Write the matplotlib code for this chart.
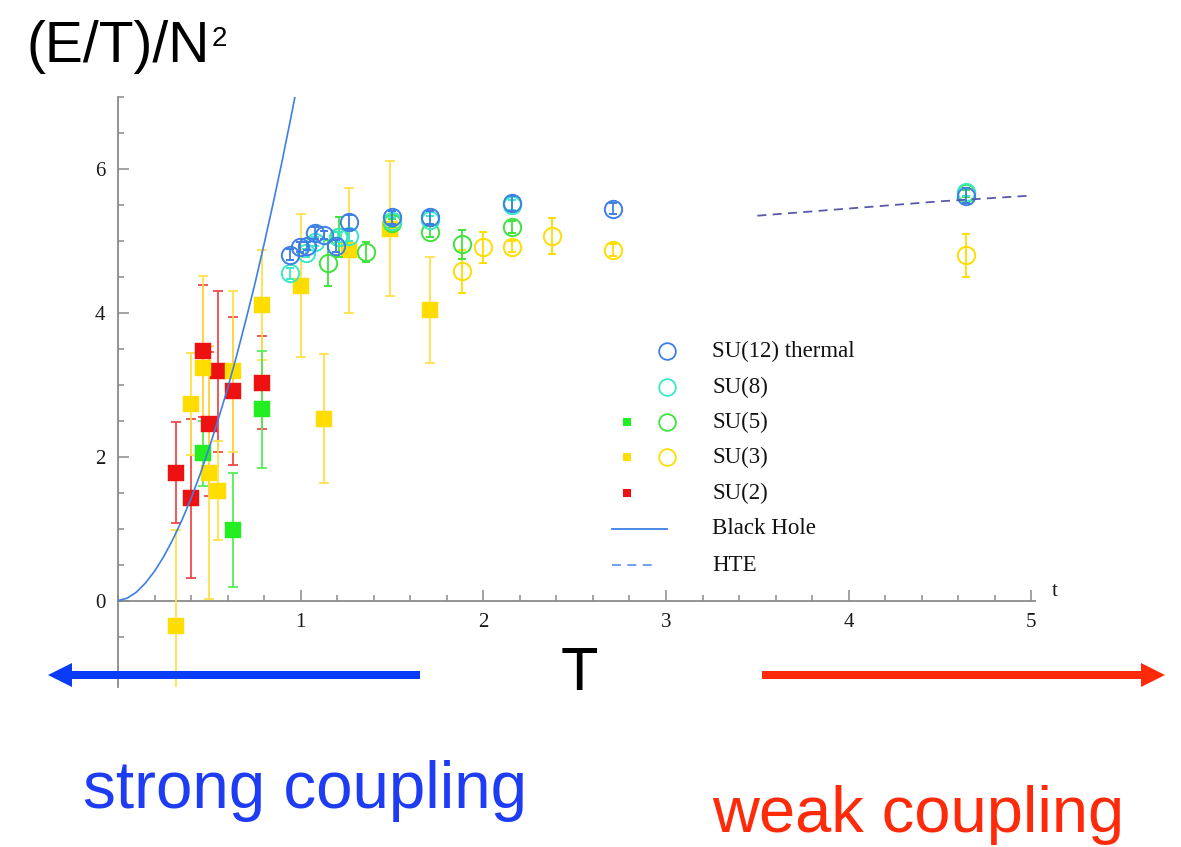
import matplotlib
matplotlib.use("Agg")
import matplotlib.pyplot as plt
from matplotlib.patches import FancyArrow
from matplotlib.transforms import IdentityTransform
from matplotlib.ticker import MultipleLocator, FixedLocator
from matplotlib.lines import Line2D

# ---------------- data ----------------
su2_sq_x = [0.32, 0.40, 0.465, 0.50, 0.547, 0.63, 0.79]
su2_sq_y = [1.78, 1.42, 3.47, 2.46, 3.19, 2.91, 3.03]
su2_sq_e = [0.70, 1.10, 0.92, 1.00, 1.12, 1.03, 0.65]

su3_sq_x = [0.32, 0.40, 0.465, 0.50, 0.547, 0.63, 0.79, 1.00, 1.126, 1.263, 1.49, 1.71]
su3_sq_y = [-0.35, 2.73, 3.24, 1.78, 1.53, 3.19, 4.11, 4.38, 2.53, 4.87, 5.17, 4.04]
su3_sq_e = [1.33, 0.71, 1.27, 1.76, 0.69, 1.12, 0.76, 1.00, 0.90, 0.87, 0.94, 0.74]

su5_sq_x = [0.465, 0.63, 0.79]
su5_sq_y = [2.05, 0.98, 2.66]
su5_sq_e = [0.45, 0.79, 0.81]

su12_x = [0.944, 0.998, 1.035, 1.077, 1.13, 1.195, 1.263, 1.50, 1.706, 2.157, 2.71, 4.64]
su12_y = [4.81, 4.92, 4.93, 5.11, 5.08, 4.93, 5.26, 5.33, 5.33, 5.52, 5.45, 5.63]
su12_e = [0.08, 0.07, 0.06, 0.08, 0.06, 0.08, 0.10, 0.09, 0.09, 0.10, 0.08, 0.10]

su8_x = [0.944, 1.03, 1.077, 1.204, 1.263, 1.50, 1.706, 2.157, 4.64]
su8_y = [4.55, 4.83, 4.99, 5.05, 5.07, 5.27, 5.29, 5.50, 5.68]
su8_e = [0.08, 0.06, 0.06, 0.07, 0.07, 0.06, 0.06, 0.07, 0.06]

su5_x = [1.15, 1.21, 1.356, 1.50, 1.706, 1.883, 2.157, 4.64]
su5_y = [4.69, 5.05, 4.84, 5.25, 5.13, 4.95, 5.19, 5.66]
su5_e = [0.32, 0.28, 0.14, 0.05, 0.08, 0.20, 0.08, 0.05]

su3_x = [1.883, 2.0, 2.157, 2.376, 2.71, 4.64]
su3_y = [4.58, 4.91, 4.92, 5.07, 4.87, 4.80]
su3_e = [0.30, 0.22, 0.08, 0.25, 0.08, 0.30]

bh_x = [0, 0.05, 0.1, 0.15, 0.2, 0.25, 0.3, 0.35, 0.4, 0.45, 0.5, 0.55, 0.6,
        0.65, 0.7, 0.75, 0.8, 0.85, 0.9, 0.95, 0.98]
bh_y = [0, 0.034, 0.117, 0.244, 0.409, 0.611, 0.849, 1.12, 1.42, 1.76, 2.13, 2.53,
        2.95, 3.41, 3.90, 4.41, 4.96, 5.53, 6.13, 6.76, 7.15]

hte_x = [3.5, 4.0, 4.5, 5.0]
hte_y = [5.35, 5.45, 5.55, 5.63]

legend_labels = ["SU(12) thermal", "SU(8)", "SU(5)", "SU(3)", "SU(2)", "Black Hole", "HTE"]

# ---------------- colours ----------------
C12 = "#3d7fe6"
C8 = "#3ce8c4"
C5 = "#3ee43a"
C5s = "#22ee22"
C3 = "#ffdd00"
C2 = "#ee1111"
CBH = "#3d7fe6"
CHTE = "#5a58a8"

W, H = 1181, 847
fig = plt.figure(figsize=(W / 100, H / 100), dpi=100)

def fx(px):
    return px / W

def fy(py):
    return 1 - py / H

# axes box: x 0..5.02 -> px 118..1035 ; y -1.2..7 -> py 687..97
ax = fig.add_axes([fx(118), fy(687), fx(1035) - fx(118), fy(97) - fy(687)])
ax.set_xlim(0, 5.02)
ax.set_ylim(-1.2, 7.0)

def squares(x, y, e, c, ec):
    ax.errorbar(x, y, yerr=e, fmt="none", ecolor=ec, elinewidth=1.3, capsize=3.8,
                capthick=1.3, zorder=3)
    ax.plot(x, y, "s", markersize=12, color=c, markeredgecolor=c, markeredgewidth=0.3,
            zorder=3.5, linestyle="none")

squares(su2_sq_x, su2_sq_y, su2_sq_e, C2, "#f04a4a")
squares(su3_sq_x, su3_sq_y, su3_sq_e, C3, "#ffe24a")
squares(su5_sq_x, su5_sq_y, su5_sq_e, C5s, "#55ee55")

ci_kw = dict(fmt="o", markersize=12.5, markerfacecolor="none", markeredgewidth=1.4,
             elinewidth=1.3, capsize=3.2, capthick=1.3)
ax.errorbar(su3_x, su3_y, yerr=su3_e, color=C3, zorder=4, **ci_kw)
ax.errorbar(su5_x, su5_y, yerr=su5_e, color=C5, zorder=5, **ci_kw)
ax.errorbar(su8_x, su8_y, yerr=su8_e, color=C8, zorder=6, **ci_kw)
ax.errorbar(su12_x, su12_y, yerr=su12_e, color=C12, zorder=7, **ci_kw)

ax.plot(bh_x, bh_y, color=CBH, lw=1.2, zorder=8)
ax.plot(hte_x, hte_y, color=CHTE, lw=1.3, ls=(0, (5, 3.5)), zorder=8)

# Mathematica-like axes through origin
for s in ["top", "right"]:
    ax.spines[s].set_visible(False)
ax.spines["bottom"].set_position(("data", 0))
ax.spines["left"].set_position(("data", 0))
for s in ["bottom", "left"]:
    ax.spines[s].set_color("#8a8a8a")
    ax.spines[s].set_linewidth(1.3)
    ax.spines[s].set_zorder(2)

ax.xaxis.set_major_locator(FixedLocator([1, 2, 3, 4, 5]))
ax.xaxis.set_minor_locator(MultipleLocator(0.2))
ax.yaxis.set_major_locator(FixedLocator([0, 2, 4, 6]))
ax.yaxis.set_minor_locator(MultipleLocator(0.5))
ax.tick_params(which="both", direction="in", color="#8a8a8a", width=1.1)
ax.tick_params(which="major", length=8)
ax.tick_params(which="minor", length=4.5)
ax.tick_params(axis="x", which="major", pad=9)
ax.tick_params(axis="y", which="major", pad=9)
for lab in ax.get_xticklabels() + ax.get_yticklabels():
    lab.set_fontfamily("Liberation Serif")
    lab.set_fontsize(15)
    lab.set_color("#1a1a1a")

ax.text(5.13, 0.0, "t", fontfamily="Liberation Serif", fontsize=15, color="#1a1a1a",
        ha="center", va="bottom")

# ---------------- legend (manual) ----------------
rows = [351, 387, 422, 457, 493, 529, 565]
col_sq, col_ci, col_tx = 627, 667, 712
leg_circ = [C12, C8, C5, C3, None]
leg_sq = [None, None, C5s, C3, C2]
for i in range(5):
    if leg_circ[i]:
        fig.add_artist(Line2D([fx(col_ci)], [fy(rows[i])], marker="o", markersize=12,
                              markerfacecolor="none", markeredgecolor=leg_circ[i],
                              markeredgewidth=1.3, linestyle="none"))
    if leg_sq[i]:
        fig.add_artist(Line2D([fx(col_sq)], [fy(rows[i])], marker="s", markersize=5.5,
                              color=leg_sq[i], markeredgewidth=0, linestyle="none"))
fig.add_artist(Line2D([fx(612), fx(667)], [fy(rows[5])] * 2, color=CBH, lw=1.3))
fig.add_artist(Line2D([fx(612), fx(658)], [fy(rows[6])] * 2, color="#6b96ea", lw=1.3,
                      ls=(0, (5, 3.5))))
for i, lab in enumerate(legend_labels):
    fig.text(fx(col_tx), fy(rows[i]), lab, fontfamily="Liberation Serif", fontsize=16.5,
             color="#111111", ha="left", va="center")

# ---------------- annotations ----------------
fig.text(fx(27), fy(62), "(E/T)/N", fontfamily="Liberation Sans", fontsize=41,
         ha="left", va="baseline", color="black")
fig.text(fx(212), fy(46), "2", fontfamily="Liberation Sans", fontsize=20,
         ha="left", va="baseline", color="black")
fig.text(fx(579), fy(690), "T", fontfamily="Liberation Sans", fontsize=44,
         ha="center", va="baseline", color="black")
fig.text(fx(83), fy(808), "strong coupling", fontfamily="Liberation Sans", fontsize=47.2,
         ha="left", va="baseline", color="#1f3cf5")
fig.text(fx(712), fy(832), "weak coupling", fontfamily="Liberation Sans", fontsize=46.8,
         ha="left", va="baseline", color="#ff2a0a")

# arrows in pixel coordinates
blue = FancyArrow(420, H - 675, 48 - 420, 0, width=8, head_width=24, head_length=24,
                  length_includes_head=True, color="#0a3cf5", transform=IdentityTransform(),
                  lw=0)
red = FancyArrow(762, H - 675, 1165 - 762, 0, width=8, head_width=24, head_length=24,
                 length_includes_head=True, color="#ff2a0a", transform=IdentityTransform(),
                 lw=0)
fig.add_artist(blue)
fig.add_artist(red)

fig.savefig("out.png", dpi=100)
